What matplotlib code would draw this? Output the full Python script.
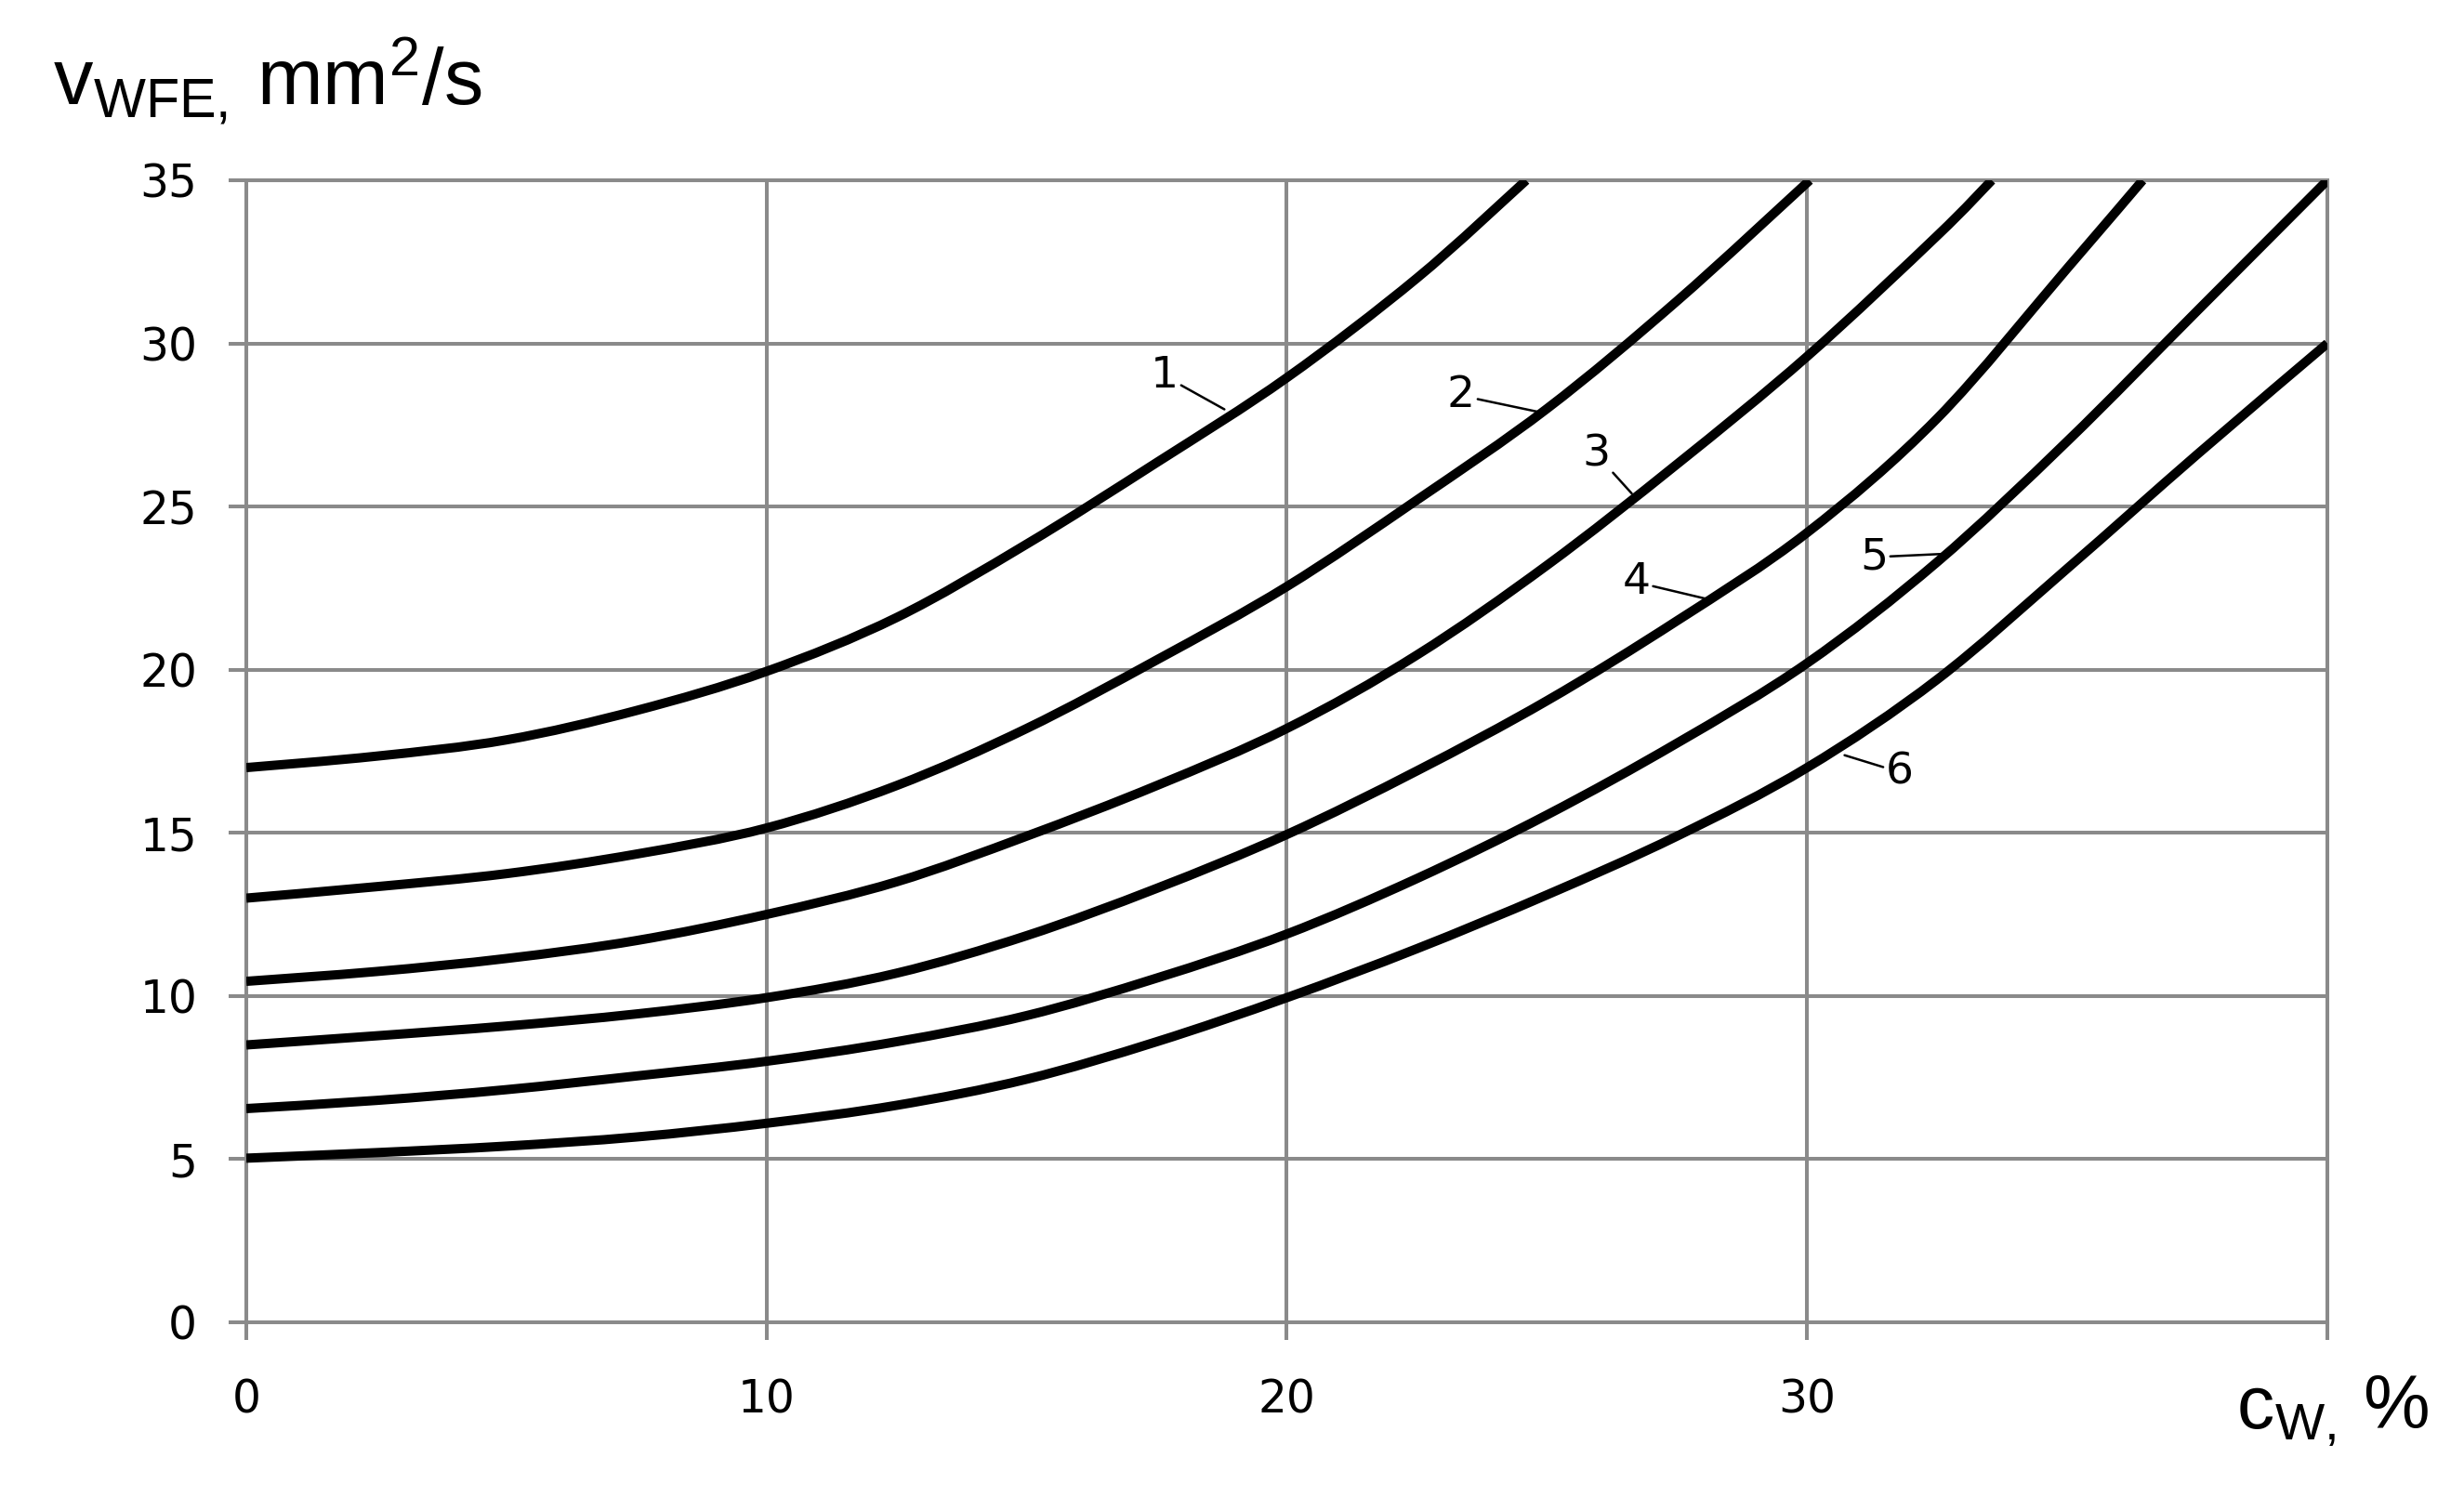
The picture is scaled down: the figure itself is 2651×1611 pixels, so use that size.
import matplotlib
matplotlib.use("Agg")
import matplotlib.pyplot as plt
from matplotlib.path import Path
from matplotlib.patches import PathPatch

# curve readings (c_W in %, v_WFE in mm2/s)
x1 = [0, 2.5, 5, 7.5, 10, 12.5, 15, 17.5, 20, 22.5, 24.6]
y1 = [17.0, 17.35, 17.85, 18.75, 19.95, 21.6, 23.85, 26.35, 28.95, 32.0, 35.0]

x2 = [0, 2.5, 5, 7.5, 10, 12.5, 15, 17.5, 20, 22.5, 25, 27.5, 30.05]
y2 = [13.0, 13.35, 13.75, 14.35, 15.15, 16.45, 18.2, 20.3, 22.55, 25.2, 28.0, 31.3, 35.0]

x3 = [0, 2.5, 5, 7.5, 10, 12.5, 15, 17.5, 20, 22.5, 25, 27.5, 30, 32.5, 33.55]
y3 = [10.45, 10.75, 11.15, 11.7, 12.5, 13.5, 14.9, 16.45, 18.2, 20.45, 23.2, 26.3, 29.6, 33.3, 35.0]

x4 = [0, 2.5, 5, 7.5, 10, 12.5, 15, 17.5, 20, 22.5, 25, 27.5, 30, 32.5, 35, 36.45]
y4 = [8.5, 8.78, 9.08, 9.45, 9.95, 10.7, 11.85, 13.3, 14.95, 16.9, 19.05, 21.5, 24.2, 27.7, 32.3, 35.0]

x5 = [0, 2.5, 5, 7.5, 10, 12.5, 15, 17.5, 20, 22.5, 25, 27.5, 30, 32.5, 35, 37.5, 40]
y5 = [6.55, 6.8, 7.13, 7.55, 8.0, 8.6, 9.4, 10.55, 11.9, 13.6, 15.55, 17.75, 20.2, 23.3, 27.0, 31.0, 35.0]

x6 = [0, 2.5, 5, 7.5, 10, 12.5, 15, 17.5, 20, 22.5, 25, 27.5, 30, 32.5, 35, 37.5, 40]
y6 = [5.03, 5.2, 5.4, 5.68, 6.1, 6.65, 7.45, 8.6, 9.95, 11.45, 13.1, 14.9, 17.0, 19.7, 23.1, 26.6, 30.0]

curve_names = ["1", "2", "3", "4", "5", "6"]
x_ticks = [0, 10, 20, 30, 40]
x_tick_labels = ["0", "10", "20", "30", ""]
y_ticks = [0, 5, 10, 15, 20, 25, 30, 35]

# where the curve numbers sit and where their leaders touch the curves
label_pos = [(17.65, 29.0), (23.35, 28.4), (25.95, 26.6), (26.72, 22.68), (31.28, 23.45), (31.78, 16.86)]
leader_end = [(18.8, 27.98), (24.84, 27.9), (26.63, 25.4), (28.12, 22.15), (32.63, 23.55), (30.72, 17.38)]

plt.rcParams["font.family"] = ["DejaVu Sans"]
plt.rcParams["mathtext.fontset"] = "custom"
plt.rcParams["mathtext.rm"] = "Liberation Sans"
plt.rcParams["mathtext.it"] = "Liberation Sans"
plt.rcParams["mathtext.bf"] = "Liberation Sans"

grey = "#8a8a8a"


def smooth_path(xv, yv):
    # excel-like smoothed line: cubic bezier segments through the read points
    pts = list(zip(xv, yv))
    n = len(pts)
    verts = [pts[0]]
    codes = [Path.MOVETO]
    for i in range(n - 1):
        p0 = pts[i - 1] if i > 0 else pts[i]
        p1 = pts[i]
        p2 = pts[i + 1]
        p3 = pts[i + 2] if i + 2 < n else pts[i + 1]
        c1 = (p1[0] + (p2[0] - p0[0]) / 6, p1[1] + (p2[1] - p0[1]) / 6)
        c2 = (p2[0] - (p3[0] - p1[0]) / 6, p2[1] - (p3[1] - p1[1]) / 6)
        verts += [c1, c2, p2]
        codes += [Path.CURVE4] * 3
    return Path(verts, codes)


fig = plt.figure(figsize=(26.51, 16.11), dpi=100)
ax = fig.add_axes([0.09996, 0.1167, 0.84459, 0.76288])

xs = [x1, x2, x3, x4, x5, x6]
ys = [y1, y2, y3, y4, y5, y6]
for xv, yv in zip(xs, ys):
    patch = PathPatch(smooth_path(xv, yv), fill=False, edgecolor="black", lw=7.2,
                      capstyle="butt", joinstyle="round", zorder=3)
    ax.add_patch(patch)

for name, pos, end in zip(curve_names, label_pos, leader_end):
    ax.annotate(name, xy=end, xytext=pos, ha="center", va="center", fontsize=34,
                arrowprops=dict(arrowstyle="-", color="black", lw=1.8, shrinkA=0, shrinkB=0),
                zorder=4)

ax.set_xlim(0, 40)
ax.set_ylim(0, 35)
ax.set_xticks(x_ticks)
ax.set_xticklabels(x_tick_labels)
ax.set_yticks(y_ticks)
ax.grid(True, color=grey, lw=2.9)
ax.set_axisbelow(True)
for s in ax.spines.values():
    s.set_color(grey)
    s.set_linewidth(2.9)
ax.tick_params(axis="both", direction="out", length=14, width=2.9, color=grey,
               labelsize=35, labelcolor="black")
ax.tick_params(axis="y", pad=24)
ax.tick_params(axis="x", pad=29)

fig.text(0.0215, 0.930, r"$\mathrm{v_{WFE,}\:mm^{2}/s}$", fontsize=61, ha="left", va="baseline")
fig.text(0.9857, 0.0459, r"$\mathrm{c_{W,}\:\%}$", fontsize=58, ha="right", va="baseline")

fig.savefig("out.png", dpi=100)
